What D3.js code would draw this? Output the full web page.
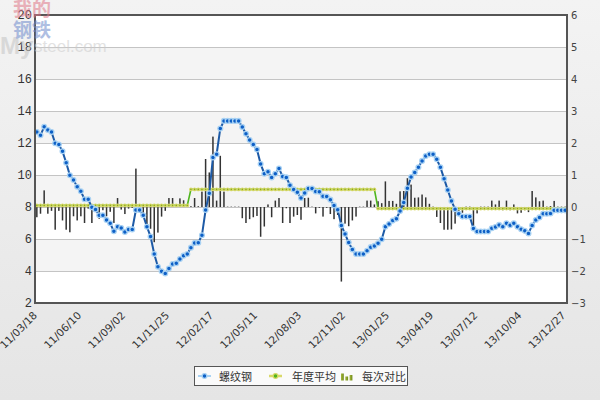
<!DOCTYPE html>
<html><head><meta charset="utf-8">
<script src="https://cdn.jsdelivr.net/npm/d3@7"></script>
<style>body{margin:0;background:#fff}svg{display:block}</style>
</head><body>
<svg id="c" width="600" height="400"></svg>
<script>
// 螺纹钢 (left axis)
const rebar = [12.69,12.48,13.02,12.81,12.69,11.98,11.90,11.48,10.77,9.98,
 9.69,9.27,8.98,8.48,8.48,7.98,7.85,7.48,7.48,7.19,
 6.98,6.48,6.77,6.69,6.44,6.60,6.60,7.81,7.81,7.48,
 6.77,6.15,5.06,4.27,3.98,3.85,4.15,4.44,4.48,4.75,
 4.96,5.06,5.46,5.75,5.77,6.23,7.81,8.86,11.10,11.30,
 12.90,13.38,13.38,13.38,13.38,13.38,13.00,12.58,12.19,11.91,
 11.60,10.69,10.08,10.20,9.85,10.08,10.41,9.90,9.85,9.36,
 9.10,8.92,8.56,8.87,9.16,9.16,8.97,8.95,8.67,8.65,
 8.46,8.10,7.83,6.85,6.32,5.78,5.34,5.06,5.06,5.06,
 5.27,5.49,5.57,5.73,5.98,6.77,6.94,7.15,7.27,7.75,
 8.28,9.17,9.87,10.16,10.48,10.88,11.19,11.29,11.29,10.98,
 10.48,9.77,9.06,8.38,7.86,7.58,7.40,7.40,7.40,6.66,
 6.47,6.47,6.47,6.47,6.67,6.75,6.88,6.77,6.98,6.86,
 6.98,6.77,6.61,6.51,6.35,6.85,7.19,7.35,7.58,7.58,
 7.60,7.79,7.79,7.79,7.79];
// 每次对比 (right axis)
const change = [-0.32,-0.21,0.52,-0.21,-0.12,-0.71,-0.12,-0.42,-0.71,-0.79,
 -0.29,-0.42,-0.29,-0.50,-0.05,-0.50,-0.13,-0.37,-0.10,-0.29,
 -0.15,-0.50,0.28,-0.08,-0.22,-0.05,-0.03,1.20,-0.05,-0.32,
 -0.55,-0.68,-1.10,-0.80,-0.30,-0.12,0.28,0.28,0.03,0.27,
 0.21,0.04,0.02,0.28,0.02,0.48,1.50,1.08,2.20,0.20,
 1.60,0.48,0,0,0,0,-0.35,-0.50,-0.38,-0.32,
 -0.28,-0.93,-0.61,0.08,-0.32,0.20,0.28,-0.50,-0.04,-0.50,
 -0.30,-0.25,-0.40,0.28,0.29,0,-0.20,-0.02,-0.30,-0.02,
 -0.22,-0.38,-0.25,-2.33,-0.52,-0.60,-0.42,-0.30,0,0,
 0.20,0.20,0.08,0.18,0.12,0.80,0.19,0.19,0.10,0.49,
 0.50,0.90,0.70,0.29,0.30,0.39,0.30,0.10,0,-0.31,
 -0.50,-0.71,-0.71,-0.70,-0.52,-0.25,-0.18,0,0,-0.72,
 -0.20,0,0,0,0.20,0.08,0.20,-0.10,0.20,-0.10,
 0.08,-0.20,-0.18,-0.10,-0.16,0.50,0.30,0.18,0.20,0,
 0.03,0.19,0,0,0];
// 年度平均 (left axis), per year
const yearAvg = [8.1, 9.1, 7.9];
const yearStart = [0, 42, 93];
const tickLabels = ["11/03/18","11/06/10","11/09/02","11/11/25","12/02/17","12/05/11","12/08/03","12/11/02","13/01/25","13/04/19","13/07/12","13/10/04","13/12/27"];
const tickEvery = 12;
const leftTicks = [2,4,6,8,10,12,14,16,18,20];
const rightTicks = [-3,-2,-1,0,1,2,3,4,5,6];
const legendNames = ["螺纹钢","年度平均","每次对比"];

const N = rebar.length;
const M = {l:35, r:567, t:15, b:303};
const svg = d3.select('#c');
const defs = svg.append('defs');
const bg = defs.append('linearGradient').attr('id','bg').attr('x1',0).attr('y1',0).attr('x2',0).attr('y2',1);
bg.append('stop').attr('offset','0%').attr('stop-color','#f3f3f3');
bg.append('stop').attr('offset','100%').attr('stop-color','#e5e5e5');
const lg = defs.append('linearGradient').attr('id','lgbar').attr('x1',0).attr('y1',0).attr('x2',1).attr('y2',0);
lg.append('stop').attr('offset','0%').attr('stop-color','#a6b83a');
lg.append('stop').attr('offset','100%').attr('stop-color','#6f8a1c');

svg.append('rect').attr('width',600).attr('height',400).attr('fill','url(#bg)');

const x = d3.scalePoint().domain(d3.range(N)).range([M.l, M.r]).padding(0.5);
const yL = d3.scaleLinear().domain([2,20]).range([M.b, M.t]);
const yR = d3.scaleLinear().domain([-3,6]).range([M.b, M.t]);

// plot background bands
svg.append('rect').attr('x',M.l).attr('y',M.t).attr('width',M.r-M.l).attr('height',M.b-M.t).attr('fill','#fff');
svg.append('g').selectAll('rect').data(leftTicks.slice(0,-1)).join('rect')
  .attr('x',M.l).attr('width',M.r-M.l)
  .attr('y',d=>yL(d+2)).attr('height',d=>yL(d)-yL(d+2))
  .attr('fill',(d,i)=> i%2===1 ? '#f4f4f4' : '#ffffff');

// grid
svg.append('g').attr('transform',`translate(${M.l},0)`)
  .call(d3.axisLeft(yL).tickValues(leftTicks).tickSize(-(M.r-M.l)).tickFormat(''))
  .call(g=>{g.select('.domain').remove(); g.selectAll('line').attr('stroke','#c4c4c4');});

// bars
const y0 = yR(0);
svg.append('g').selectAll('rect').data(change).join('rect')
  .attr('x',(d,i)=>x(i)-0.75).attr('width',1.5)
  .attr('y',d=> d>=0 ? Math.min(yR(d), y0-0.8) : y0)
  .attr('height',d=> Math.max(0.8, Math.abs(yR(d)-y0)))
  .attr('fill',d=> d===0 ? '#9a9a9a' : '#333');

// annual average line
const avgData = rebar.map((v,i)=>{ let k=0; yearStart.forEach((s,j)=>{ if(i>=s) k=j; }); return yearAvg[k]; });
svg.append('path').datum(avgData)
  .attr('d', d3.line().x((d,i)=>x(i)).y(d=>yL(d)))
  .attr('fill','none').attr('stroke','#4fb51e').attr('stroke-width',1.6);
svg.append('g').selectAll('circle').data(avgData).join('circle')
  .attr('cx',(d,i)=>x(i)).attr('cy',d=>yL(d)).attr('r',1.9)
  .attr('fill','#d9d96a');
svg.append('g').selectAll('circle').data(avgData).join('circle')
  .attr('cx',(d,i)=>x(i)).attr('cy',d=>yL(d)).attr('r',0.8)
  .attr('fill','#8aaa22');

// rebar line
svg.append('path').datum(rebar)
  .attr('d', d3.line().x((d,i)=>x(i)).y(d=>yL(d)))
  .attr('fill','none').attr('stroke','#1d5aa6').attr('stroke-width',2);
svg.append('g').selectAll('circle').data(rebar).join('circle')
  .attr('cx',(d,i)=>x(i)).attr('cy',d=>yL(d)).attr('r',2.4)
  .attr('fill','#0d5fc6').attr('stroke','#a9d2f3').attr('stroke-width',1.3);

// frame
svg.append('rect').attr('x',M.l).attr('y',M.t).attr('width',M.r-M.l).attr('height',M.b-M.t)
  .attr('fill','none').attr('stroke','#555').attr('stroke-width',2);

// left axis labels
svg.append('g').attr('transform',`translate(${M.l-2},0)`)
  .call(d3.axisLeft(yL).tickValues(leftTicks).tickSize(0).tickPadding(1))
  .call(g=>{g.select('.domain').remove();
    g.selectAll('text').attr('font-family','"Liberation Mono", "DejaVu Sans Mono", monospace').attr('font-size',12).attr('fill','#333');});

// right axis labels
svg.append('g').attr('transform',`translate(${M.r+2},0)`)
  .call(d3.axisRight(yR).tickValues(rightTicks).tickSize(0).tickPadding(2).tickFormat(d3.format('d')))
  .call(g=>{g.select('.domain').remove();
    g.selectAll('text').attr('font-family','"DejaVu Sans", sans-serif').attr('font-size',10).attr('fill','#444');});

// x labels
const xTickIdx = tickLabels.map((t,i)=>i*tickEvery);
svg.append('g').selectAll('text').data(tickLabels).join('text')
  .attr('transform',(d,i)=>`translate(${x(xTickIdx[i])+1},316) rotate(-45)`)
  .attr('text-anchor','end')
  .attr('font-family','"DejaVu Sans", sans-serif').attr('font-size',10.5).attr('fill','#333')
  .text(d=>d);

// legend
const L = svg.append('g');
L.append('rect').attr('x',194.5).attr('y',366.5).attr('width',213).attr('height',19)
  .attr('fill','#fafafa').attr('stroke','#555');
L.append('line').attr('x1',198).attr('x2',211).attr('y1',376).attr('y2',376).attr('stroke','#a9d2f3').attr('stroke-width',2);
L.append('circle').attr('cx',204.5).attr('cy',376).attr('r',2.4).attr('fill','#0d5fc6').attr('stroke','#a9d2f3').attr('stroke-width',1.3);
L.append('line').attr('x1',269).attr('x2',282).attr('y1',376).attr('y2',376).attr('stroke','#d9d96a').attr('stroke-width',2.5);
L.append('circle').attr('cx',275.5).attr('cy',376).attr('r',2.4).attr('fill','#4fb51e').attr('stroke','#d9d96a').attr('stroke-width',1.2);
const barIcon = [7, 4, 5.5];
L.selectAll('rect.ic').data(barIcon).join('rect').attr('class','ic')
  .attr('x',(d,i)=>341+i*4.3).attr('width',2.8).attr('y',d=>380.5-d).attr('height',d=>d)
  .attr('fill','url(#lgbar)');
const lx = [219, 292, 362];
L.selectAll('text').data(legendNames).join('text')
  .attr('x',(d,i)=>lx[i]).attr('y',380.5)
  .attr('font-family','"Noto Sans CJK SC", sans-serif').attr('font-size',11).attr('fill','#333')
  .text(d=>d);

// watermark
const wm = svg.append('g').attr('opacity',0.55);
wm.append('text').attr('x',0).attr('y',54).attr('font-family','"Liberation Sans", Arial, sans-serif').attr('font-weight','bold').attr('font-size',24).attr('fill','#c4c4c4').text('My');
wm.append('text').attr('x',34).attr('y',52).attr('font-family','"Liberation Sans", Arial, sans-serif').attr('font-size',17).attr('fill','#cccccc').text('steel.com');
wm.append('text').attr('x',13).attr('y',16).attr('font-family','"Noto Sans CJK SC", sans-serif').attr('font-weight','bold').attr('font-size',19).attr('fill','#e07888').text('我的');
wm.append('text').attr('x',13).attr('y',37).attr('font-family','"Noto Sans CJK SC", sans-serif').attr('font-weight','bold').attr('font-size',19).attr('fill','#6f8bcc').text('钢铁');
</script>
</body></html>
